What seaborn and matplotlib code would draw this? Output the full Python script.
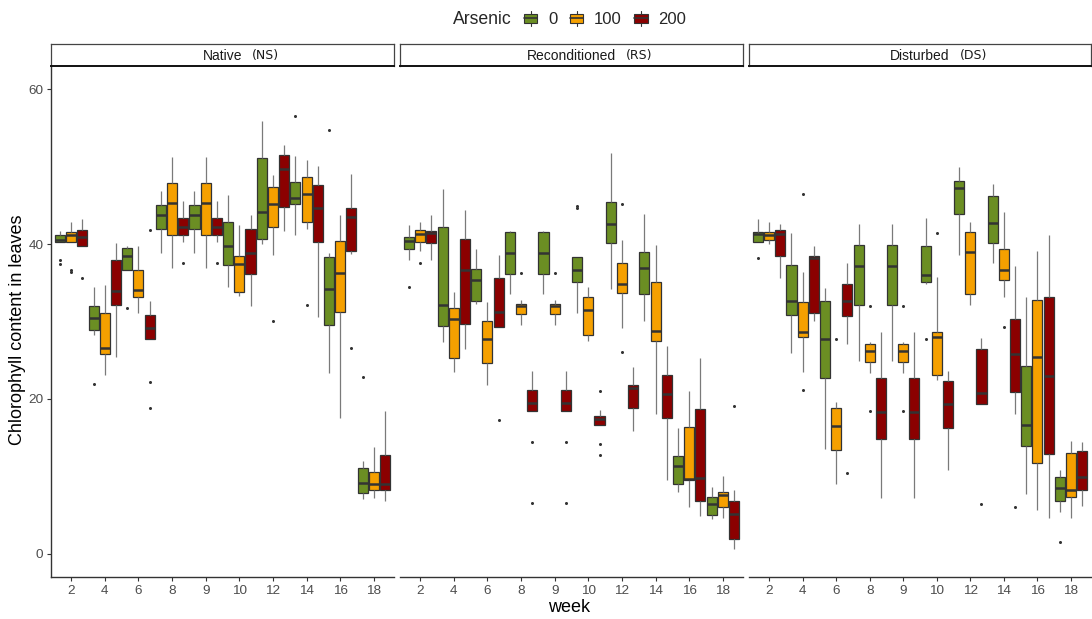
import numpy as np
import pandas as pd
import matplotlib
matplotlib.use("Agg")
import matplotlib.pyplot as plt
import seaborn as sns
from matplotlib.patches import Patch, Rectangle
from matplotlib.lines import Line2D
from matplotlib.legend_handler import HandlerBase

# ---------------- data ----------------
WEEKS = [2, 4, 6, 8, 9, 10, 12, 14, 16, 18]
ARSENIC = ["0", "100", "200"]
SITES = ["Native", "Reconditioned", "Disturbed"]
SITE_CODES = ["(NS)", "(RS)", "(DS)"]
COLORS = ["#6B8E23", "#F5A000", "#8B0000"]

# five-number summaries per week: (lower whisker, Q1, median, Q3, upper whisker)
NS_0 = [(40.3, 40.3, 40.5, 41.1, 41.7), (28.3, 28.9, 30.4, 32.0, 34.4), (36.6, 36.6, 38.5, 39.5, 39.8),
        (38.8, 42.0, 43.7, 45.0, 46.9), (38.8, 42.0, 43.7, 45.0, 46.9), (34.5, 37.3, 39.7, 42.9, 46.3),
        (40.0, 40.7, 44.1, 51.1, 55.9), (41.1, 45.2, 45.9, 48.0, 51.4), (23.4, 29.5, 34.2, 38.3, 38.8),
        (7.1, 7.9, 9.2, 11.1, 12.0)]
NS_100 = [(40.3, 40.3, 41.1, 41.5, 42.8), (23.1, 25.8, 26.6, 31.1, 34.7), (31.1, 33.2, 34.1, 36.7, 39.8),
          (36.9, 41.1, 45.3, 47.9, 51.2), (36.9, 41.1, 45.3, 47.9, 51.2), (33.3, 33.8, 37.4, 38.5, 42.4),
          (38.6, 42.2, 45.2, 47.4, 48.9), (42.0, 42.8, 46.5, 48.6, 50.9), (17.6, 31.2, 36.3, 40.4, 43.7),
          (7.2, 8.2, 9.0, 10.6, 13.8)]
NS_200 = [(39.7, 39.7, 40.9, 41.8, 43.2), (25.4, 32.1, 34.0, 38.0, 40.1), (27.8, 27.8, 29.1, 30.8, 32.6),
          (40.2, 41.1, 42.2, 43.3, 45.5), (40.2, 41.1, 42.2, 43.3, 45.5), (32.0, 36.1, 38.8, 41.9, 43.8),
          (41.7, 44.8, 49.7, 51.5, 52.8), (30.6, 40.3, 44.6, 47.6, 50.1), (38.7, 39.1, 43.5, 44.6, 49.0),
          (6.8, 8.3, 9.0, 12.8, 18.5)]

RS_0 = [(37.9, 39.4, 40.4, 40.9, 42.4), (27.3, 29.4, 32.1, 42.2, 47.1), (32.3, 32.6, 35.4, 36.8, 39.4),
        (33.6, 36.1, 38.9, 41.5, 41.7), (33.6, 36.1, 38.9, 41.5, 41.7), (31.1, 35.1, 36.6, 38.3, 38.3),
        (34.2, 40.1, 42.6, 45.4, 51.7), (30.1, 33.5, 36.9, 39.0, 43.9), (8.0, 9.0, 11.4, 12.6, 16.2),
        (4.5, 5.0, 6.4, 7.3, 8.7)]
RS_100 = [(39.1, 40.3, 41.3, 41.8, 42.9), (23.5, 25.3, 30.3, 31.7, 33.8), (21.8, 24.7, 27.8, 30.1, 32.5),
          (29.6, 31.0, 32.0, 32.2, 32.8), (29.6, 31.0, 32.0, 32.2, 32.8), (27.5, 28.3, 31.5, 33.2, 34.5),
          (29.1, 33.7, 34.8, 37.5, 40.5), (18.0, 27.5, 28.8, 35.1, 39.9), (6.1, 9.6, 9.7, 16.4, 21.0),
          (4.6, 6.1, 7.6, 8.0, 10.0)]
RS_200 = [(37.9, 40.1, 41.4, 41.7, 43.8), (26.5, 29.7, 36.6, 40.7, 44.4), (29.3, 29.3, 31.2, 35.6, 38.6),
          (18.5, 18.5, 19.5, 21.1, 23.6), (18.5, 18.5, 19.5, 21.1, 23.6), (16.6, 16.6, 17.4, 17.8, 18.6),
          (15.9, 18.8, 21.4, 21.8, 24.1), (9.6, 17.6, 20.6, 23.1, 26.9), (4.9, 6.8, 9.8, 18.7, 25.3),
          (0.6, 1.9, 5.1, 6.8, 8.3)]

DS_0 = [(40.2, 40.3, 41.3, 41.6, 43.2), (25.9, 30.8, 32.6, 37.3, 41.4), (13.6, 22.7, 27.8, 32.6, 34.3),
        (24.9, 32.1, 37.2, 39.9, 42.6), (24.9, 32.1, 37.2, 39.9, 42.6), (34.8, 35.1, 36.0, 39.8, 43.3),
        (38.6, 43.9, 47.2, 48.1, 50.0), (37.5, 40.1, 42.7, 46.2, 47.8), (7.8, 13.9, 16.7, 24.2, 33.1),
        (5.4, 6.8, 8.5, 9.9, 10.8)]
DS_100 = [(40.0, 40.5, 41.1, 41.5, 42.9), (23.5, 28.0, 28.6, 32.5, 36.4), (9.0, 13.4, 16.5, 18.8, 19.6),
          (23.4, 24.8, 26.2, 27.1, 27.3), (23.4, 24.8, 26.2, 27.1, 27.3), (22.5, 23.1, 28.0, 28.7, 35.7),
          (32.1, 33.5, 39.0, 41.5, 42.8), (33.2, 35.4, 36.6, 39.3, 44.1), (5.7, 11.8, 25.4, 32.8, 39.1),
          (4.6, 7.4, 8.3, 13.0, 14.6)]
DS_200 = [(35.6, 38.5, 41.3, 41.8, 42.6), (30.1, 31.1, 38.2, 38.5, 39.8), (27.1, 30.7, 32.7, 34.8, 37.6),
          (7.2, 14.9, 18.3, 22.7, 28.6), (7.2, 14.9, 18.3, 22.7, 28.6), (10.8, 16.3, 19.4, 22.3, 23.6),
          (19.4, 19.4, 20.8, 26.4, 27.9), (18.0, 20.9, 25.8, 30.3, 37.2), (4.6, 12.9, 23.0, 33.2, 41.1),
          (6.2, 8.3, 9.9, 13.3, 14.4)]

# outliers: (week, arsenic, value)
NS_OUT = [(2, "0", 37.9), (2, "0", 37.4), (2, "100", 36.6), (2, "100", 36.4), (2, "200", 35.6),
          (4, "0", 21.9), (6, "0", 31.7), (6, "200", 22.2), (6, "200", 18.9), (6, "200", 41.8),
          (8, "200", 37.6), (9, "200", 37.6), (12, "100", 30.1), (14, "0", 56.5), (14, "100", 32.1),
          (16, "0", 54.7), (16, "200", 26.6), (18, "0", 22.8)]
RS_OUT = [(2, "0", 34.5), (2, "100", 37.6), (6, "200", 17.3), (8, "100", 36.3), (8, "200", 14.5),
          (8, "200", 6.6), (9, "100", 36.3), (9, "200", 14.5), (9, "200", 6.6), (10, "0", 44.9),
          (10, "0", 44.6), (10, "200", 21.0), (10, "200", 14.2), (10, "200", 12.8), (12, "100", 45.2),
          (12, "100", 26.1), (18, "200", 19.1)]
DS_OUT = [(2, "0", 38.2), (4, "100", 46.5), (4, "100", 21.2), (6, "100", 27.8), (6, "200", 10.5),
          (8, "100", 32.0), (8, "100", 18.5), (9, "100", 32.0), (9, "100", 18.5), (10, "0", 27.7),
          (10, "100", 41.4), (12, "200", 6.4), (14, "100", 29.3), (14, "200", 6.1), (18, "0", 1.5)]

SITE_BOXES = [[NS_0, NS_100, NS_200], [RS_0, RS_100, RS_200], [DS_0, DS_100, DS_200]]
SITE_OUT = [NS_OUT, RS_OUT, DS_OUT]

# ---------------- build tidy frames ----------------
SLOT_ORDER = [f"{w}-{a}" for w in WEEKS for a in ARSENIC]
rows = []
for site, groups in zip(SITES, SITE_BOXES):
    for a, boxes in zip(ARSENIC, groups):
        for w, stats in zip(WEEKS, boxes):
            for v in stats:
                rows.append(dict(site=site, week=w, arsenic=a, slot=f"{w}-{a}", value=v))
df = pd.DataFrame(rows)
orows = []
for site, outs in zip(SITES, SITE_OUT):
    for w, a, v in outs:
        orows.append(dict(site=site, week=w, arsenic=a, slot=f"{w}-{a}", value=v))
odf = pd.DataFrame(orows)

# ---------------- style ----------------
sns.set_style("white")
plt.rcParams["font.family"] = ["Liberation Sans", "DejaVu Sans"]

W, H = 1092, 619
fig = plt.figure(figsize=(W / 100, H / 100), dpi=100)
PANELS = [(51, 394), (400, 743), (749, 1091)]
TOP, BOTTOM = 66, 577
STRIP_H = 22.5

for i, (site, code, (x0, x1)) in enumerate(zip(SITES, SITE_CODES, PANELS)):
    ax = fig.add_axes([x0 / W, (H - BOTTOM) / H, (x1 - x0) / W, (BOTTOM - TOP) / H])
    sub = df[df.site == site]
    sns.boxplot(data=sub, x="slot", y="value", hue="arsenic", order=SLOT_ORDER,
                hue_order=ARSENIC, palette=COLORS, saturation=1, dodge=False, width=0.9,
                whis=(0, 100), showfliers=False, showcaps=False,
                linecolor="#333333", linewidth=0.9,
                medianprops=dict(color="#333333", linewidth=1.8),
                whiskerprops=dict(color="#7a7a7a", linewidth=0.9),
                legend=False, ax=ax)
    osub = odf[odf.site == site]
    sns.stripplot(data=osub, x="slot", y="value", order=SLOT_ORDER, jitter=False,
                  color="#333333", size=2.2, linewidth=0, legend=False, ax=ax)
    ax.set_xlim(-0.8, len(SLOT_ORDER) - 0.2)
    ax.set_ylim(-2.97, 62.97)
    ax.set_xticks([3 * k + 1 for k in range(len(WEEKS))], [str(w) for w in WEEKS])
    ax.set_yticks([0, 20, 40, 60])
    ax.set_xlabel("")
    ax.set_ylabel("")
    ax.tick_params(axis="both", length=3, width=0.8, color="#333333", labelcolor="#4D4D4D",
                   labelsize=9.7, pad=2.5)
    for s in ["top", "right"]:
        ax.spines[s].set_visible(False)
    ax.spines["bottom"].set_color("#333333")
    ax.spines["bottom"].set_linewidth(1.0)
    if i == 0:
        ax.spines["left"].set_color("#333333")
        ax.spines["left"].set_linewidth(1.0)
        ax.tick_params(axis="y", left=True)
    else:
        ax.spines["left"].set_visible(False)
        ax.tick_params(axis="y", left=False, labelleft=False)
    ax.tick_params(axis="x", bottom=True)

    # facet strip
    sax = fig.add_axes([x0 / W, (H - TOP) / H, (x1 - x0) / W, STRIP_H / H])
    sax.set_xticks([])
    sax.set_yticks([])
    for s in sax.spines.values():
        s.set_color("#444444")
        s.set_linewidth(0.9)
    sax.spines["bottom"].set_color("#111111")
    sax.spines["bottom"].set_linewidth(1.4)
    t = sax.text(0.5, 0.45, site, ha="center", va="center", fontsize=10, color="#1A1A1A",
                 transform=sax.transAxes)
    sax.annotate(code, xy=(1, 0.5), xycoords=t, xytext=(7, 0), textcoords="offset points",
                 ha="left", va="center", fontsize=9, color="#1A1A1A", family="DejaVu Sans")

# axis titles
fig.text(18 / W, 1 - 330 / H, "Chlorophyll content in leaves", rotation=90,
         ha="center", va="center", fontsize=13, color="#000000")
fig.text(569 / W, 1 - 607 / H, "week", ha="center", va="center", fontsize=13, color="#000000")


# legend with miniature box keys
class BoxKey(HandlerBase):
    def create_artists(self, legend, orig_handle, xdescent, ydescent, width, height,
                       fontsize, trans):
        c = orig_handle.get_facecolor()
        x0, y0 = -xdescent, -ydescent
        box = Rectangle((x0, y0 + 0.18 * height), width, 0.64 * height, facecolor=c,
                        edgecolor="#333333", linewidth=0.8, transform=trans)
        med = Line2D([x0, x0 + width], [y0 + 0.5 * height] * 2, color="#333333",
                     linewidth=1.2, transform=trans)
        wt = Line2D([x0 + width / 2] * 2, [y0 + 0.82 * height, y0 + height], color="#333333",
                    linewidth=0.8, transform=trans)
        wb = Line2D([x0 + width / 2] * 2, [y0, y0 + 0.18 * height], color="#333333",
                    linewidth=0.8, transform=trans)
        return [box, med, wt, wb]


handles = [Patch(facecolor=c, edgecolor="#333333") for c in COLORS]
fig.text(512 / W, 1 - 19 / H, "Arsenic", ha="right", va="center", fontsize=12.7)
fig.legend(handles, ARSENIC, ncol=3, loc="center left", bbox_to_anchor=(524 / W, 1 - 19 / H),
           frameon=False, fontsize=12, handlelength=0.8, handleheight=1.0,
           handletextpad=0.65, columnspacing=0.75, borderaxespad=0, borderpad=0,
           handler_map={Patch: BoxKey()})

fig.savefig("out.png", dpi=100)
